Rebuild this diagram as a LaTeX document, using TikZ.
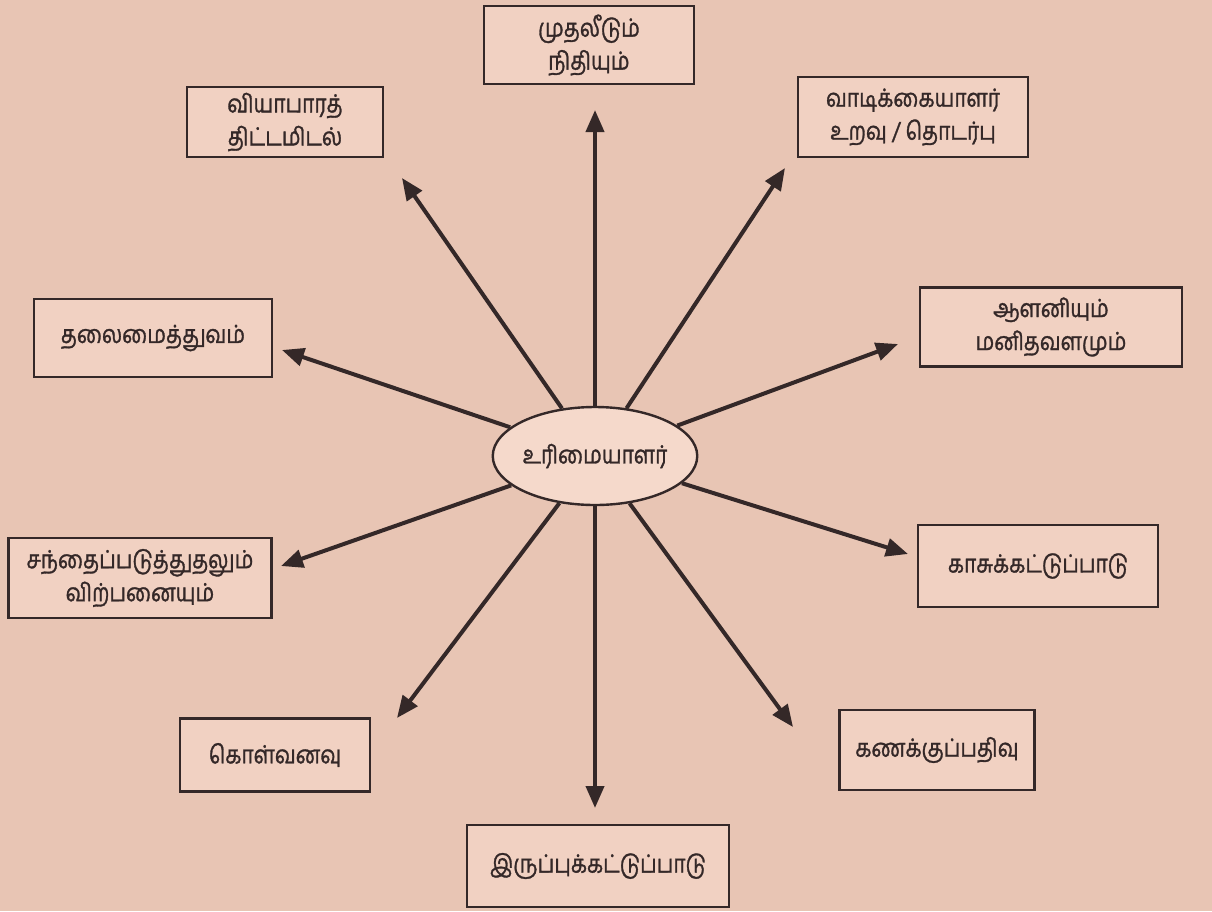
\documentclass[tikz,border=0pt]{standalone}
\usepackage{fontspec}
\newfontfamily\tamilfont[Script=Tamil,FakeStretch=0.84,FakeBold=1.2]{Hind Madurai}
\usepackage{tikz}
\usetikzlibrary{arrows.meta,shapes.geometric}
\definecolor{paper}{RGB}{232,197,180}
\definecolor{boxfill}{RGB}{241,209,194}
\definecolor{ellfill}{RGB}{245,217,203}
\definecolor{ink}{RGB}{52,40,40}
\tikzset{
    %Define standard arrow tip
    >={Triangle[length=22pt,width=18pt]},
    %Define style for boxes
    boxrect/.style={
           rectangle,
           draw=ink, line width=2.6pt,
           fill=boxfill,
           font=\tamilfont\fontsize{25}{33}\selectfont,
           text=ink,
           align=center,
           inner sep=0pt},
    ownerell/.style={
           ellipse,
           draw=ink, line width=2.4pt,
           fill=ellfill,
           minimum width=190pt,
           minimum height=98pt,
           inner sep=0pt,
           font=\tamilfont\fontsize{25}{33}\selectfont,
           text=ink},
    % Define arrow style
    pil/.style={
           ->,
           draw=ink,
           line width=4pt}
}
\begin{document}
\begin{tikzpicture}[x=1pt,y=-1pt]
\useasboundingbox (0,0) rectangle (1212,911);
\fill[paper] (0,0) rectangle (1212,911);
% boxes
\node[boxrect, minimum width=210pt, minimum height=78pt] (invest) at (589,45) {முதலீடும்\\நிதியும்};
\node[boxrect, minimum width=196pt, minimum height=70pt] (plan) at (285,122) {வியாபாரத்\\திட்டமிடல்};
\node[boxrect, minimum width=230pt, minimum height=80pt] (client) at (913,117) {வாடிக்கையாளர்\\உறவு / தொடர்பு};
\node[boxrect, minimum width=238pt, minimum height=78pt] (lead) at (153,338) {தலைமைத்துவம்};
\node[boxrect, minimum width=262pt, minimum height=79pt] (staff) at (1051,327) {ஆளனியும்\\மனிதவளமும்};
\node[boxrect, minimum width=263pt, minimum height=80pt] (market) at (140,578) {சந்தைப்படுத்துதலும்\\விற்பனையும்};
\node[boxrect, minimum width=240pt, minimum height=82pt] (cash) at (1038,566) {காசுக்கட்டுப்பாடு};
\node[boxrect, minimum width=190pt, minimum height=73pt] (purchase) at (275,755) {கொள்வனவு};
\node[boxrect, minimum width=195pt, minimum height=80pt] (account) at (937,750) {கணக்குப்பதிவு};
\node[boxrect, minimum width=262pt, minimum height=82pt] (stock) at (598,866) {இருப்புக்கட்டுப்பாடு};
% centre
\node[ownerell] (owner) at (595,456) {உரிமையாளர்};
% arrow tips
\coordinate (tinvest) at (595,110);
\coordinate (tplan) at (402,178);
\coordinate (tclient) at (785,168);
\coordinate (tlead) at (282,350);
\coordinate (tstaff) at (898,344);
\coordinate (tmarket) at (281,566);
\coordinate (tcash) at (908,554);
\coordinate (tpurchase) at (397,718);
\coordinate (taccount) at (793,727);
\coordinate (tstock) at (595,808);
\foreach \t in {tinvest,tplan,tclient,tlead,tstaff,tmarket,tcash,tpurchase,taccount,tstock}
  \draw[pil] (owner) -- (\t);
\end{tikzpicture}
\end{document}
